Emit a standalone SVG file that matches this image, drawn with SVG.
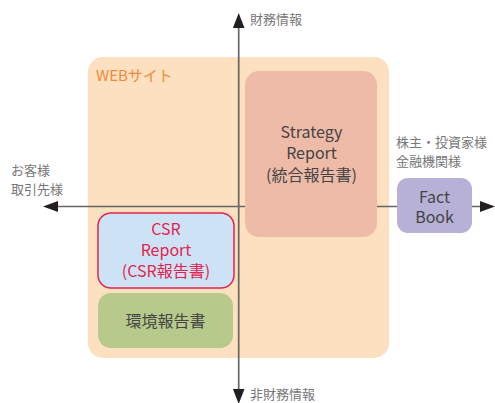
<svg xmlns="http://www.w3.org/2000/svg" width="495" height="403" viewBox="0 0 495 403">
<defs>
<style>
text{font-family:"Noto Sans CJK JP","Noto Sans",sans-serif;}
.lbl{font-size:13px;fill:#777;}
.nt{font-size:16px;fill:#444;text-anchor:middle;}
.csr{font-size:16px;fill:#e2234d;text-anchor:middle;}
.ax{stroke:#666;stroke-width:1.7;fill:none;}
.hd{fill:#231f20;}
</style>
</defs>
<g id="web">
<rect x="88" y="57" width="301" height="301" rx="15" fill="#fde0bf"/>
<text x="96" y="81" font-size="15" fill="#f08a3c">WEBサイト</text>
</g>
<g id="connectors">
<line class="ax" x1="238.7" y1="396" x2="238.7" y2="20"/>
<path class="hd" d="M238.7,13 L244.5,28 L232.9,28 Z"/>
<path class="hd" d="M238.7,404 L244.5,389 L232.9,389 Z"/>
<line class="ax" x1="50" y1="206.5" x2="488" y2="206.5"/>
<path class="hd" d="M43,206.5 L58,201 L58,212 Z"/>
<path class="hd" d="M495,206.5 L480,201 L480,212 Z"/>
</g>
<g id="strategy">
<rect x="245" y="71" width="132" height="166" rx="14" fill="#eebba8"/>
<text class="nt" x="311.5" y="138">Strategy</text>
<text class="nt" x="311.5" y="159">Report</text>
<text class="nt" x="311.5" y="181">(統合報告書)</text>
</g>
<g id="factbook">
<rect x="397" y="178" width="75" height="55" rx="11" fill="#b8b1d7"/>
<text class="nt" x="434.5" y="203" font-size="17">Fact</text>
<text class="nt" x="434.5" y="223" font-size="17">Book</text>
</g>
<g id="csr">
<rect x="98" y="213" width="136" height="75" rx="13" fill="#cde3f5" stroke="#e2234d" stroke-width="1.5"/>
<text class="csr" x="166" y="235">CSR</text>
<text class="csr" x="166" y="256">Report</text>
<text class="csr" x="166" y="277">(CSR報告書)</text>
</g>
<g id="env">
<rect x="98" y="293" width="135" height="55" rx="13" fill="#b8c98c"/>
<text class="nt" x="165.5" y="327" font-size="15">環境報告書</text>
</g>
<g id="labels">
<text class="lbl" x="250" y="24">財務情報</text>
<text class="lbl" x="250" y="399">非財務情報</text>
<text class="lbl" x="11" y="175">お客様</text>
<text class="lbl" x="11" y="194">取引先様</text>
<text class="lbl" x="396" y="147">株主・投資家様</text>
<text class="lbl" x="396" y="166">金融機関様</text>
</g>
</svg>
